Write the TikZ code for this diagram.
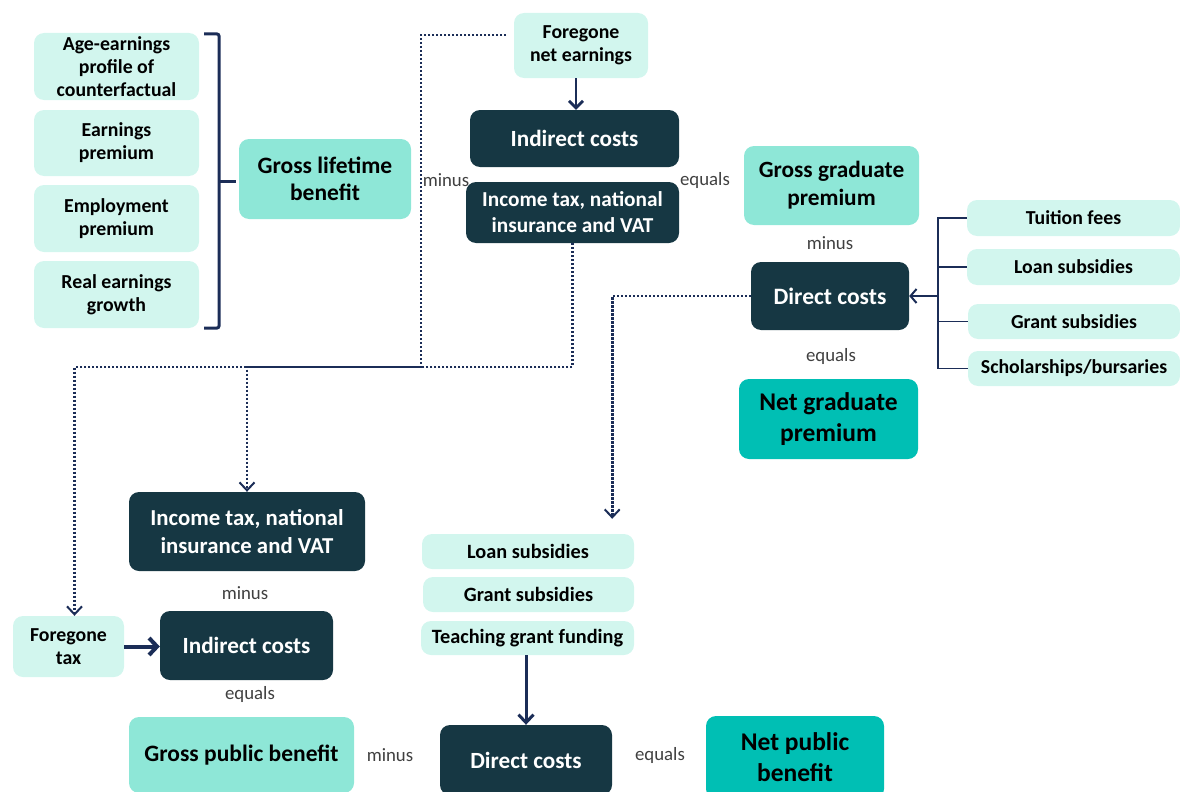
\documentclass[tikz,border=0pt]{standalone}
\usepackage{fontspec}
\setmainfont{Carlito}
\usetikzlibrary{arrows.meta,calc}
\definecolor{lightc}{HTML}{D2F6EE}
\definecolor{midc}{HTML}{8EE7D7}
\definecolor{tealc}{HTML}{00BFB4}
\definecolor{darkc}{HTML}{163743}
\definecolor{navy}{HTML}{1B2D57}
\definecolor{lblc}{HTML}{404040}
\newcommand\mybox[7]{\node[#2, minimum width={#5pt-#3pt}, minimum height={#6pt-#4pt}] (#1) at ({(#3+#5)/2},{(#4+#6)/2}) {#7};}
\begin{document}
\begin{tikzpicture}[x=1pt,y=-1pt,
  basebox/.style={rounded corners=10pt, inner sep=0pt, align=center, font=\bfseries},
  lightbox/.style={basebox, fill=lightc, text=black, font=\bfseries\fontsize{19.8}{23}\selectfont},
  midbox/.style={basebox, fill=midc, text=black, font=\bfseries\fontsize{23.5}{27.5}\selectfont},
  tealbox/.style={basebox, fill=tealc, text=black, font=\bfseries\fontsize{25.5}{31}\selectfont},
  darkbox/.style={basebox, fill=darkc, text=white, font=\bfseries\fontsize{23.2}{28}\selectfont},
  lbl/.style={text=lblc, font=\fontsize{18.8}{22}\selectfont, inner sep=0pt},
  solidarrow/.style={draw=navy, line width=2.8pt, -{Straight Barb[length=7pt,width=14pt,line width=2.8pt]}},
  dotline/.style={draw=navy, line width=2.6pt, dash pattern=on 2.2pt off 1.8pt},
  dotarrow/.style={dotline, -{Straight Barb[length=8pt,width=15pt,line width=2pt]}},
  thinline/.style={draw=navy, line width=1.5pt}
]
\useasboundingbox (0,0) rectangle (1180,792);

% left column
\mybox{age}{lightbox}{34}{33}{199}{100}{Age-earnings\\profile of\\counterfactual}
\mybox{earn}{lightbox}{34}{110}{199}{176}{Earnings\\premium}
\mybox{emp}{lightbox}{34}{185}{199}{252}{Employment\\premium}
\mybox{real}{lightbox}{34}{261}{199}{328}{Real earnings\\growth}
\mybox{glb}{midbox}{239}{139}{411}{219}{Gross lifetime\\benefit}

% top middle
\mybox{fne}{lightbox}{514}{13}{648}{78}{Foregone\\net earnings}
\mybox{ic1}{darkbox}{470}{110}{679}{167}{Indirect costs}
\mybox{it1}{darkbox, font=\bfseries\fontsize{21.3}{26}\selectfont}{466}{182}{679}{243}{Income tax, national\\insurance and VAT}

% right
\mybox{ggp}{midbox, font=\bfseries\fontsize{23.3}{28}\selectfont}{744}{146}{919}{225}{Gross graduate\\premium}
\mybox{dc1}{darkbox, font=\bfseries\fontsize{23.5}{28}\selectfont}{751}{262}{909}{330}{Direct costs}
\mybox{ngp}{tealbox}{739}{379}{918}{459}{Net graduate\\premium}
\mybox{tf}{lightbox}{967}{200}{1180}{236}{Tuition fees}
\mybox{ls1}{lightbox}{967}{249}{1180}{285}{Loan subsidies}
\mybox{gs1}{lightbox}{968}{304}{1180}{339}{Grant subsidies}
\mybox{sb}{lightbox}{968}{351}{1180}{386}{Scholarships/bursaries}

% bottom left
\mybox{it2}{darkbox, font=\bfseries\fontsize{22.8}{28}\selectfont}{129}{492}{365}{571}{Income tax, national\\insurance and VAT}
\mybox{ft}{lightbox}{13}{616}{124}{677}{Foregone\\tax}
\mybox{ic2}{darkbox}{160}{611}{333}{680}{Indirect costs}
\mybox{gpb}{midbox}{129}{717}{354}{793}{Gross public benefit}

% bottom middle
\mybox{ls2}{lightbox, font=\bfseries\fontsize{20.3}{22}\selectfont}{422}{534}{634}{569}{Loan subsidies}
\mybox{gs2}{lightbox, font=\bfseries\fontsize{20.3}{22}\selectfont}{423}{577}{634}{612}{Grant subsidies}
\mybox{tg}{lightbox, font=\bfseries\fontsize{20.3}{22}\selectfont}{421}{621}{634}{655}{Teaching grant funding}
\mybox{dc2}{darkbox}{440}{725}{612}{795}{Direct costs}
\mybox{npb}{tealbox}{706}{716}{884}{799}{Net public\\benefit}

% labels
\node[lbl] (m1) at (446,180) {minus};
\node[lbl] (e1) at (705,180) {equals};
\node[lbl] (m2) at (830,243) {minus};
\node[lbl] (e2) at (831,356) {equals};
\node[lbl] (m3) at (245,593) {minus};
\node[lbl] (e3) at (250,694) {equals};
\node[lbl] (m4) at (390,755) {minus};
\node[lbl] (e4) at (660,755) {equals};

% bracket
\coordinate (bt) at (204,34);
\coordinate (bb) at (204,328);
\coordinate (btip) at (236,181);
\draw[draw=navy, line width=3pt, rounded corners=2pt] (bt) -- ++(15,0) -- ++(0,294) -- (bb);
\draw[draw=navy, line width=3pt] (219,181) -- (btip);

% solid arrows
\draw[solidarrow] ([xshift=1.5pt]fne.south -| ic1.north) -- ([xshift=1.5pt]ic1.north);
\draw[solidarrow, line width=4pt, -{Straight Barb[length=8pt,width=17pt,line width=4pt]}] (ft.east) -- (ft.east -| ic2.west);
\draw[solidarrow, line width=3pt, -{Straight Barb[length=8pt,width=15pt,line width=3pt]}] ([xshift=-1.5pt]tg.south) -- ([xshift=-1.5pt]tg.south |- dc2.north);

% tree to direct costs
\coordinate (tk) at (938,296);
\draw[thinline] (tf.west) -- (tf.west -| tk) -- (sb.west -| tk) -- (sb.west);
\draw[thinline] (ls1.west) -- (ls1.west -| tk);
\draw[thinline] (gs1.west) -- (gs1.west -| tk);
\draw[thinline, line width=2.2pt, -{Straight Barb[length=6pt,width=14pt,line width=2pt]}] (tk) -- (dc1.east);

% dotted connectors
\coordinate (d1) at (506,35);
\coordinate (v1) at (421,367);
\draw[dotarrow] (d1) -| (v1) -| ([xshift=6pt]ft.north);
\draw[dotarrow] (it1.south) |- (v1) -| (it2.north);
\draw[dotarrow] (dc1.west) -| ($(ls2.north east)+(-22,-15)$);
\end{tikzpicture}
\end{document}
